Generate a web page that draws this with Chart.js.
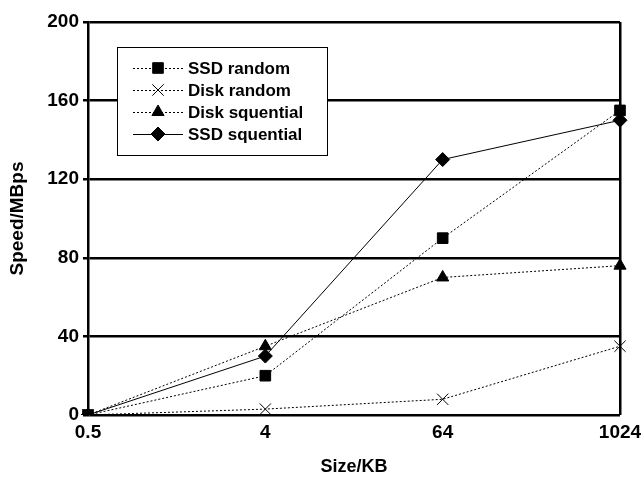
<!DOCTYPE html>
<html>
<head>
<meta charset="utf-8">
<script src="https://cdn.jsdelivr.net/npm/chart.js@4"></script>
<style>
  body { margin: 0; background: #fff; }
  #wrap { width: 642px; height: 478px; }
</style>
</head>
<body>
<div id="wrap"><canvas id="plotChart" width="642" height="478"></canvas></div>
<script>
// Chart data
const sizes = ["0.5", "4", "64", "1024"];
const ssdRandom = [0, 20, 90, 155];
const diskRandom = [0, 3, 8, 35];
const diskSequential = [0, 35, 70, 76];
const ssdSequential = [0, 30, 130, 150];
const yTicks = [0, 40, 80, 120, 160, 200];

const FONT = "'Liberation Sans', Arial, sans-serif";

function series(label, data, style, dash, radius) {
  return {
    label: label,
    data: data,
    borderColor: "#000",
    backgroundColor: "#000",
    borderWidth: 1,
    borderDash: dash,
    pointStyle: style,
    pointRadius: radius,
    pointBorderWidth: 1,
    pointBackgroundColor: "#000",
    pointBorderColor: "#000",
    tension: 0,
  };
}

// Legend drawn inside the plot with a framed box, like the original
const boxLegend = {
  id: "boxLegend",
  afterDraw(chart) {
    const c = chart.ctx;
    const x0 = 117, y0 = 47, w = 210, h = 108;
    c.save();
    c.fillStyle = "#fff";
    c.fillRect(x0, y0, w, h);
    c.strokeStyle = "#000";
    c.lineWidth = 1;
    c.setLineDash([]);
    c.strokeRect(x0 + 0.5, y0 + 0.5, w, h);
    chart.data.datasets.forEach((ds, i) => {
      const y = 68 + i * 22;
      c.beginPath();
      c.strokeStyle = "#000";
      c.setLineDash(ds.borderDash || []);
      c.lineWidth = 1;
      c.moveTo(133, y + 0.5);
      c.lineTo(183, y + 0.5);
      c.stroke();
      c.setLineDash([]);
      c.fillStyle = "#000";
      Chart.helpers.drawPoint(c, {
        pointStyle: ds.pointStyle,
        radius: ds.pointRadius,
        borderWidth: 1,
        rotation: 0,
      }, 158, y);
      c.fillStyle = "#000";
      c.font = "bold 17px " + FONT;
      c.textBaseline = "middle";
      c.fillText(ds.label, 188, y + 1);
    });
    c.restore();
  },
};

const ctx = document.getElementById("plotChart").getContext("2d");
const plotChart = new Chart(ctx, {
  type: "line",
  data: {
    labels: sizes,
    datasets: [
      series("SSD random", ssdRandom, "rect", [2, 2], 7.5),
      series("Disk random", diskRandom, "crossRot", [2, 2], 8),
      series("Disk squential", diskSequential, "triangle", [2, 2], 7),
      series("SSD squential", ssdSequential, "rectRot", [], 7),
    ],
  },
  options: {
    responsive: false,
    animation: false,
    layout: { padding: { top: 22, right: 0, left: 0, bottom: 0 } },
    plugins: {
      legend: { display: false },
      tooltip: { enabled: false },
    },
    scales: {
      x: {
        type: "category",
        offset: false,
        afterFit: (scale) => {
          scale.height = 63;
          scale.paddingRight = 22;
          scale.paddingLeft = 0;
        },
        grid: {
          color: (c) => (c.index === sizes.length - 1 ? "#000" : "rgba(0,0,0,0)"),
          lineWidth: 2.5,
          drawTicks: false,
        },
        border: { display: false },
        ticks: {
          color: "#000",
          padding: 6,
          font: { family: FONT, size: 19, weight: "bold" },
        },
        title: {
          display: true,
          text: "Size/KB",
          color: "#000",
          padding: { top: 4, bottom: 0 },
          font: { family: FONT, size: 18, weight: "bold" },
        },
      },
      y: {
        min: 0,
        max: 200,
        afterBuildTicks: (scale) => { scale.ticks = yTicks.map((v) => ({ value: v })); },
        afterFit: (scale) => { scale.width = 88; },
        grid: {
          color: "#000",
          lineWidth: 2.5,
          tickLength: 5,
          tickColor: "#000",
        },
        border: { display: true, color: "#000", width: 2.5 },
        ticks: {
          color: "#000",
          padding: 4,
          font: { family: FONT, size: 19, weight: "bold" },
        },
        title: {
          display: true,
          text: "Speed/MBps",
          color: "#000",
          padding: { top: 6, bottom: 0 },
          font: { family: FONT, size: 19, weight: "bold" },
        },
      },
    },
  },
  plugins: [boxLegend],
});
</script>
</body>
</html>
